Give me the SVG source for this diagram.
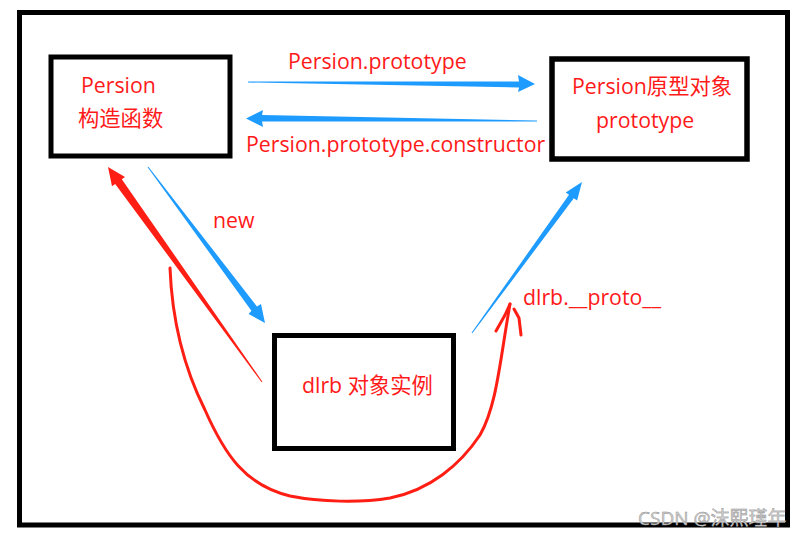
<svg xmlns="http://www.w3.org/2000/svg" width="804" height="537" viewBox="0 0 804 537">
<style>
.box{fill:none;stroke:#000;stroke-width:5}
.t{font-family:"Open Sans","Noto Sans CJK SC",sans-serif;font-size:21.3px;fill:#ff1a1a}
.blue{fill:#1e9bff}
.red{fill:#ff1e14}
.curve{fill:none;stroke:#ff1e14;stroke-width:3;stroke-linecap:round;stroke-linejoin:round}
.wm{font-family:"Open Sans","Noto Sans CJK SC",sans-serif;font-size:19px;fill:#d0d0d0;stroke:#8a8a8a;stroke-width:0.4}
</style>
<rect width="804" height="537" fill="#fff"/>
<rect x="19.5" y="12.5" width="768" height="512.5" class="box"/>
<g id="node-constructor">
<rect x="51" y="57" width="179" height="99" class="box"/>
<text x="81" y="93" class="t">Persion</text>
<text x="78" y="126" class="t">构造函数</text>
</g>
<g id="node-prototype">
<rect x="552" y="59" width="195" height="100" class="box" style="stroke-width:5.5"/>
<text x="572" y="94" class="t">Persion原型对象</text>
<text x="596" y="128" class="t">prototype</text>
</g>
<g id="node-instance">
<rect x="274.5" y="335.5" width="179" height="113" class="box"/>
<text x="302" y="393" class="t">dlrb 对象实例</text>
</g>
<g id="connectors">
<polygon class="blue" points="248,81.5 519,81.5 518,75 535,84 518,92 519,87.5 248,82.5"/>
<polygon class="blue" points="537,120.5 262,115 263,110 246,118.5 263,127 262,121.5 537,121.5"/>
<polygon class="blue" points="147.6,167.3 251.4,310.7 248.6,314 265,323 261,304 257.0,306.5 148.4,166.7"/>
<polygon class="blue" points="471.6,332.7 569.0,194.7 565.7,192.4 582,182 577.1,200.6 573.8,198.3 472.4,333.3"/>
<polygon class="red" points="261.6,382.3 115.2,183.9 112.0,186.3 108,167 125.0,176.9 121.8,179.3 262.4,381.7"/>
<path class="curve" d="M170,268 C172,320 185,370 205,410 C225,455 245,485 290,496 C320,502 360,503 390,498 C430,490 460,465 480,435 C497,405 500,360 510,304"/>
<path class="curve" d="M510,304 L505,315 L496,331 M514,309 L519,318 L521,335"/>
<text x="213" y="228" class="t">new</text>
<text x="288" y="69" class="t">Persion.prototype</text>
<text x="246" y="152" class="t">Persion.prototype.constructor</text>
<text x="523" y="305" class="t">dlrb.__proto__</text>
</g>
<text x="638" y="525" class="wm">CSDN @沫熙瑾年</text>
</svg>
